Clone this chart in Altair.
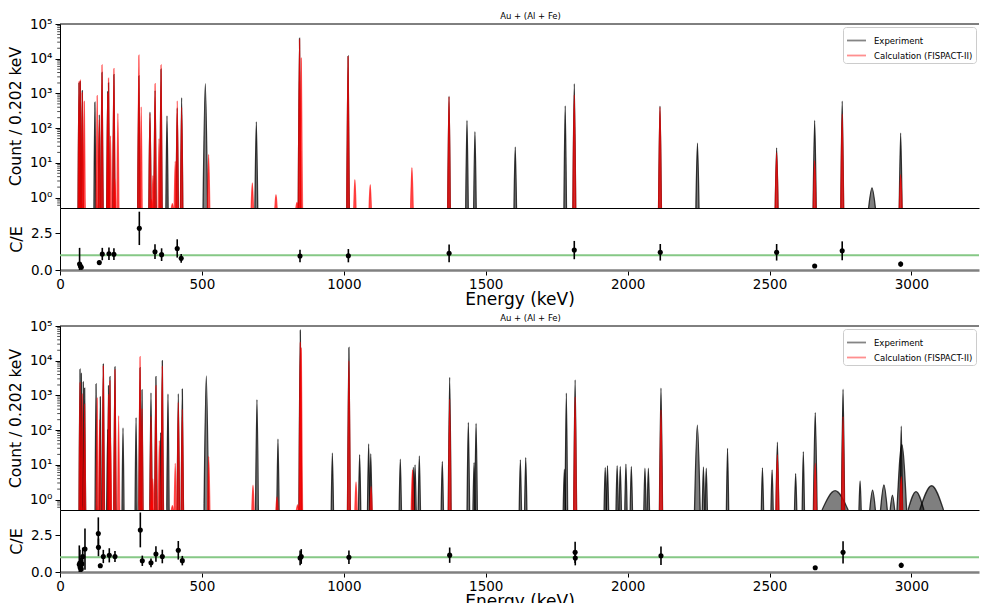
import altair as alt
import pandas as pd

FONT = "DejaVu Sans"
X_MAX = 3238
PW = 919
HS = 184
HR = 62
YMIN = 0.5
EXP = "Experiment"
CALC = "Calculation (FISPACT-II)"
TITLE = "Au + (Al + Fe)"

# ---------------- upper figure: spectrum peaks (energy keV, counts, half-width keV) ----------------
top_exp_energy = [67, 71.5, 78.6, 123, 138.5, 148, 168, 171, 190, 278, 317, 335, 356, 377, 413, 428.6,
                  512, 691.7, 844, 1015, 1370.7, 1434, 1462, 1604, 1780, 1812, 2114, 2246, 2525, 2659,
                  2756, 2861, 2962]
top_exp_count = [2000, 2200, 1200, 560, 240, 4000, 1130, 2000, 3500, 3200, 290, 1200, 5000, 225, 380, 750,
                 1900, 152, 39000, 12000, 830, 166, 79, 28.6, 440, 1900, 430, 37, 27, 166,
                 600, 1.9, 72]
top_exp_hw = [3.5, 3.5, 3.5, 3.5, 3.5, 4, 3.5, 3.5, 4, 4, 4, 4, 4, 4, 4, 4,
              8, 5, 4.5, 4.5, 4.5, 4.5, 4.5, 4.5, 4.5, 5, 5, 5.5, 5, 5.5,
              5, 12, 5]

top_calc_energy = [67, 71.5, 78.6, 85.6, 131, 138.5, 148, 168, 171, 178, 190, 193, 204, 278, 286, 317,
                   323, 327.5, 335, 349, 356, 396, 406, 413, 428.6, 523.7, 677.6, 761, 835, 844, 850,
                   1015, 1039, 1093, 1240, 1370.7, 1812, 2114, 2525, 2659, 2756, 2962]
top_calc_count = [2200, 2400, 1050, 590, 860, 180, 6600, 1000, 2750, 60, 5200, 3.5, 265, 12600, 410, 260,
                  0.87, 4.3, 1900, 50, 6600, 0.67, 11, 610, 400, 17.5, 2.65, 1.22, 0.73, 36000, 10300,
                  11500, 3.3, 2.36, 7.3, 800, 910, 400, 20, 11.6, 254, 4.6]
top_calc_hw = [3.5, 3.5, 3.5, 3.5, 3.5, 3.5, 4, 3.5, 3.5, 3.5, 4, 3.5, 3.5, 4, 3.5, 4,
               3.5, 3.5, 4, 3.5, 4, 3.5, 3.5, 4, 4, 4, 4, 4, 4, 4.5, 4.5,
               4.5, 4, 4, 4.5, 4.5, 5, 5, 5, 5, 5, 5]

# upper figure: C/E ratios
top_ratio_energy = [69, 72, 75, 138.5, 149, 172.5, 190, 279.5, 334.7, 358, 413, 427, 845.6, 1016, 1371,
                    1812, 2115, 2525, 2659, 2756, 2962]
top_ratio_value = [0.4, 0.27, 0.18, 0.5, 1.08, 1.1, 1.07, 2.82, 1.24, 1.04, 1.46, 0.79, 0.95, 0.97, 1.13,
                   1.35, 1.2, 1.2, 0.27, 1.3, 0.4]
top_ratio_error = [1.1, 0.15, 0.1, 0.13, 0.42, 0.42, 0.4, 1.13, 0.5, 0.43, 0.62, 0.3, 0.42, 0.45, 0.6,
                   0.62, 0.56, 0.56, 0.03, 0.64, 0.17]

# ---------------- lower figure ----------------
bot_exp_energy = [70.5, 75, 82, 86.8, 127, 142, 152.6, 168, 171, 176, 193.7, 222, 268, 282, 289, 320.6,
                  338, 354.6, 360.5, 380.5, 416.8, 431, 515.5, 694, 768, 846.7, 959.6, 1018, 1055.7,
                  1087.5, 1095, 1199, 1245, 1251, 1266, 1347, 1373, 1438.7, 1459, 1466, 1622, 1641,
                  1777, 1784, 1815, 1921, 1929, 1963, 1974, 1994, 2013, 2061, 2073, 2117.5, 2245.6,
                  2267, 2277, 2352, 2475, 2509, 2527.6, 2592, 2619, 2661, 2731, 2759, 2819, 2863,
                  2903, 2933, 2964, 2966, 3016, 3071]
bot_exp_count = [5700, 4300, 2450, 1630, 2130, 910, 8000, 105, 1900, 3450, 6650, 115, 230, 6300, 1450, 1180,
                 3500, 85, 10000, 1100, 1120, 1520, 3650, 760, 55, 76000, 22, 24000, 19.5,
                 40, 21, 14.5, 8.5, 10, 18, 12.5, 3300, 166, 11.6, 155, 13.9, 16.2,
                 7.5, 1170, 2820, 8.4, 9.4, 9.4, 9.0, 10.5, 9, 8, 8, 1620, 139,
                 8.7, 8, 30, 8.2, 7.2, 45, 5.6, 24, 320, 1.8, 1515, 3.45, 1.87,
                 2.65, 1.34, 130, 38, 1.7, 2.5]
bot_exp_hw = [3.5, 3.5, 3.5, 3.5, 3.5, 3.5, 4, 3.5, 3.5, 3.5, 4, 3.5, 3.5, 4, 3.5, 4,
              4, 3.5, 4, 4, 4, 4, 8, 5, 4, 5, 4, 5, 4,
              4, 4, 4, 4, 4, 4, 4, 5, 4.5, 4, 4.5, 4, 4,
              4, 4.5, 5, 4, 4, 4, 4, 4, 4, 4, 4, 5.5, 10,
              4, 4, 4, 4, 4, 5, 4, 4, 6.5, 46, 5.5, 4, 10,
              12, 8, 4.5, 17, 28, 42]

bot_calc_energy = [70.5, 78, 86.8, 131, 140, 152.6, 171, 176, 178, 193.7, 206.6, 282, 289, 320.6, 323, 327,
                   338, 350, 360.5, 396, 406, 416.8, 431, 524, 680, 764.6, 837, 846.7, 850, 1018, 1043,
                   1096, 1242, 1373, 1815, 2117.5, 2527.6, 2661, 2759, 2964]
bot_calc_count = [2350, 1090, 560, 835, 200, 7000, 1050, 2640, 60, 5500, 260, 13000, 420, 250, 1.0, 4,
                  1900, 50, 6800, 0.67, 11, 630, 400, 17.5, 2.6, 1.2, 0.7, 33500, 23000, 10000, 3.2,
                  2.4, 7.3, 780, 910, 385, 19.5, 11.2, 246, 4.6]
bot_calc_hw = [3.5, 3.5, 3.5, 3.5, 3.5, 4, 3.5, 3.5, 3.5, 4, 3.5, 4, 3.5, 4, 3.5, 3.5,
               4, 3.5, 4, 3.5, 3.5, 4, 4, 4, 4, 4, 4, 4.5, 4.5, 5, 4,
               4, 4.5, 4.5, 5, 5, 5, 5, 5, 5]

bot_ratio_energy = [68, 70, 71, 73, 75, 77, 80, 88, 135, 135.5, 142, 152.6, 173.7, 193.7, 283, 290, 320.6,
                    338, 360.5, 416.8, 431, 846, 850, 1018, 1373, 1815, 1815.5, 2117.5, 2661, 2759, 2964]
bot_ratio_value = [0.5, 0.6, 0.3, 0.35, 0.2, 0.55, 1.05, 1.55, 2.6, 1.67, 0.42, 1.05, 1.13, 1.05, 2.85, 0.76,
                   0.62, 1.22, 1.05, 1.47, 0.77, 0.95, 1.05, 1.0, 1.14, 1.33, 0.95, 1.1, 0.29, 1.33, 0.45]
bot_ratio_error = [1.3, 0.9, 0.5, 0.6, 0.4, 0.5, 0.6, 1.4, 1.1, 0.6, 0.15, 0.45, 0.48, 0.38, 1.18, 0.35,
                   0.3, 0.52, 0.46, 0.63, 0.32, 0.5, 0.5, 0.46, 0.52, 0.72, 0.5, 0.63, 0.03, 0.75, 0.18]

x_ticks = [0, 500, 1000, 1500, 2000, 2500, 3000]
y_ticks = [1, 10, 100, 1000, 10000, 100000]
minor_ticks = [m * 10 ** k for k in range(-1, 5) for m in range(2, 10) if YMIN < m * 10 ** k < 1e5]


def peak_table(energy, count, hw, series):
    rows = []
    for i, (e, c, w) in enumerate(zip(energy, count, hw)):
        rows.append({"E": e - w, "C": YMIN, "b": YMIN, "pk": i, "s": series})
        rows.append({"E": e, "C": c, "b": YMIN, "pk": i, "s": series})
        rows.append({"E": e + w, "C": YMIN, "b": YMIN, "pk": i, "s": series})
    return pd.DataFrame(rows)


def spectrum(eE, eC, eW, cE, cC, cW):
    exp_df = peak_table(eE, eC, eW, EXP)
    calc_df = peak_table(cE, cC, cW, CALC)
    x = alt.X("E:Q", scale=alt.Scale(domain=[0, X_MAX], nice=False, zero=False),
              axis=alt.Axis(labels=False, ticks=False, title=None, domain=True,
                            domainColor="black", domainWidth=1))
    y = alt.Y("C:Q", scale=alt.Scale(type="log", domain=[YMIN, 1e5], nice=False),
              axis=alt.Axis(values=y_ticks, title="Count / 0.202 keV", titleFontSize=15.5,
                            labelFontSize=13.5, tickSize=5, labelPadding=3, titlePadding=6,
                            labelExpr="'10' + ['⁰','¹','²','³','⁴','⁵'][round(log(datum.value)/LN10)]",
                            domainColor="black"))
    color = alt.Color("s:N", scale=alt.Scale(domain=[EXP, CALC], range=["#858585", "#ff8f8f"]),
                      legend=alt.Legend(title=None, orient="top-right", offset=3, padding=3,
                                        fillColor="white", strokeColor="#cccccc", cornerRadius=3,
                                        labelFontSize=8.5, labelFont=FONT, symbolType="stroke",
                                        symbolSize=360, symbolStrokeWidth=1.8, rowPadding=-10,
                                        labelOffset=7))
    exp_area = alt.Chart(exp_df).mark_area(interpolate="monotone", color="black", opacity=0.5,
                                           clip=True).encode(x=x, y=y, y2="b:Q", detail="pk:N")
    exp_line = alt.Chart(exp_df).mark_line(interpolate="monotone", color="black", strokeWidth=1.3,
                                           opacity=0.75, clip=True).encode(x=x, y=y, detail="pk:N")
    calc_area = alt.Chart(calc_df).mark_area(interpolate="monotone", color="red", opacity=0.62,
                                             clip=True).encode(x=x, y=y, y2="b:Q", detail="pk:N")
    calc_line = alt.Chart(calc_df).mark_line(interpolate="monotone", color="red", strokeWidth=1.3,
                                             opacity=0.6, clip=True).encode(x=x, y=y, detail="pk:N")
    legend_layer = alt.Chart(exp_df.head(0)).mark_line(opacity=1).encode(x=x, y=y, color=color)
    top_border = alt.Chart(pd.DataFrame({"k": [0]})).mark_rule(color="black", strokeWidth=1).encode(
        x=alt.value(0), x2=alt.value(PW), y=alt.value(0))
    minor = alt.Chart(pd.DataFrame({"C": minor_ticks})).mark_rule(color="black", strokeWidth=0.7).encode(
        x=alt.value(-2.8), x2=alt.value(0), y=y)
    return alt.layer(exp_area, exp_line, calc_area, calc_line, legend_layer, top_border, minor).properties(
        width=PW, height=HS,
        title=alt.TitleParams(TITLE, fontSize=8.5, font=FONT, fontWeight="normal", anchor="middle",
                              dx=11, offset=-3, color="black"))


def ratio(E, R, err):
    df = pd.DataFrame({"E": E, "R": R,
                       "lo": [max(r - e, 0) for r, e in zip(R, err)],
                       "hi": [r + e for r, e in zip(R, err)]})
    x = alt.X("E:Q", scale=alt.Scale(domain=[0, X_MAX], nice=False, zero=False),
              axis=alt.Axis(values=x_ticks, format="d", title="Energy (keV)", titleFontSize=17,
                            labelFontSize=13.5, tickSize=5, labelPadding=2, titlePadding=1,
                            domainColor="#808080", domainWidth=2.5, labelFlush=False))
    yscale = alt.Scale(domain=[0, 4.2], nice=False, zero=True)
    yaxis = alt.Axis(values=[0, 2.5], format=".1f", title="C/E", titleFontSize=16, labelFontSize=13.5,
                     tickSize=5, labelPadding=3, titlePadding=6, domainColor="black")
    unity = alt.Chart(pd.DataFrame({"R": [1.0]})).mark_rule(color="#86c886", strokeWidth=2).encode(
        y=alt.Y("R:Q", scale=yscale, axis=yaxis))
    bars = alt.Chart(df).mark_rule(color="black", strokeWidth=1.6, clip=True).encode(
        x=x, y=alt.Y("lo:Q", scale=yscale, axis=yaxis), y2="hi:Q")
    pts = alt.Chart(df).mark_point(filled=True, color="black", size=26, opacity=1, clip=True).encode(
        x=x, y=alt.Y("R:Q", scale=yscale, axis=yaxis))
    return alt.layer(unity, bars, pts).properties(width=PW, height=HR)


upper = alt.vconcat(
    spectrum(top_exp_energy, top_exp_count, top_exp_hw, top_calc_energy, top_calc_count, top_calc_hw),
    ratio(top_ratio_energy, top_ratio_value, top_ratio_error),
    spacing=0).resolve_scale(color="independent", x="independent", y="independent").resolve_legend(
    color="independent")
lower = alt.vconcat(
    spectrum(bot_exp_energy, bot_exp_count, bot_exp_hw, bot_calc_energy, bot_calc_count, bot_calc_hw),
    ratio(bot_ratio_energy, bot_ratio_value, bot_ratio_error),
    spacing=0).resolve_scale(color="independent", x="independent", y="independent").resolve_legend(
    color="independent")

chart = alt.vconcat(upper, lower, spacing=5).resolve_scale(
    color="independent", x="independent", y="independent").resolve_legend(color="independent").properties(
    padding={"left": 0, "top": 3, "right": 0, "bottom": 0}, background="white"
).configure(font=FONT).configure_view(stroke=None).configure_axis(
    labelFont=FONT, titleFont=FONT, labelColor="black", titleColor="black", tickColor="black",
    grid=False, titleFontWeight="normal"
).configure_title(font=FONT, fontWeight="normal")

chart.save("out.html", embed_options={"renderer": "svg", "actions": False})
